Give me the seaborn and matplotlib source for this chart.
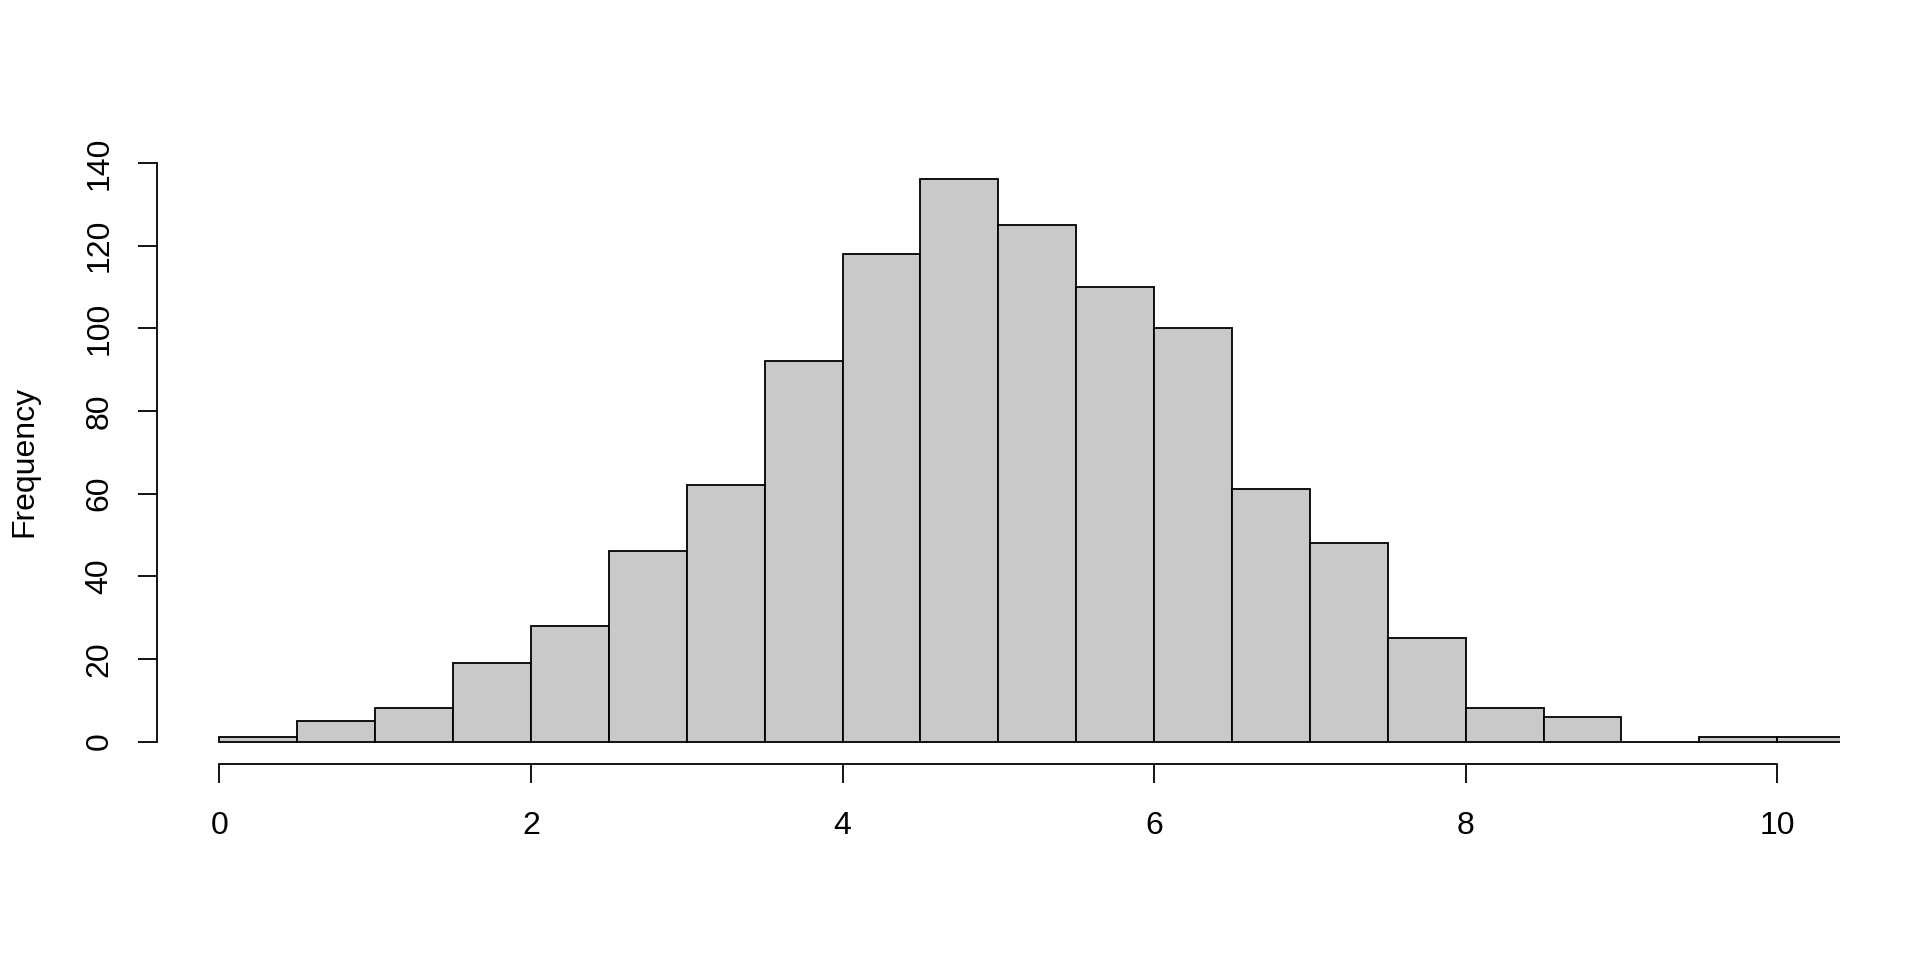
import matplotlib
matplotlib.use("Agg")
import matplotlib.pyplot as plt
import seaborn as sns
import numpy as np
import pandas as pd

# Histogram data (bin edges and counts)
bin_edges = [0.0, 0.5, 1.0, 1.5, 2.0, 2.5, 3.0, 3.5, 4.0, 4.5, 5.0,
             5.5, 6.0, 6.5, 7.0, 7.5, 8.0, 8.5, 9.0, 9.5, 10.0, 10.5]
counts = [1, 5, 8, 19, 28, 46, 62, 92, 118, 136, 125,
          110, 100, 61, 48, 25, 8, 6, 0, 1, 1]
x_ticks = [0, 2, 4, 6, 8, 10]
y_ticks = [0, 20, 40, 60, 80, 100, 120, 140]
y_label = "Frequency"

sns.set_style("white")
plt.rcParams['font.family'] = ['Liberation Sans', 'DejaVu Sans']

mids = [(a + b) / 2 for a, b in zip(bin_edges[:-1], bin_edges[1:])]
df = pd.DataFrame({"value": mids, "count": counts})

fig = plt.figure(figsize=(19.2, 9.6), dpi=100)
ax = fig.add_axes([157 / 1920, 1 - 764 / 960, (1839.6 - 157) / 1920, (764 - 157) / 960])

sns.histplot(data=df, x="value", weights="count", bins=bin_edges, ax=ax,
             color="#C9C9C9", edgecolor="black", linewidth=1.3, alpha=1.0)

ax.set_xlim(-0.4, 10.4)
ax.set_ylim(-5.44, 141.44)
ax.set_xlabel("")
ax.set_ylabel("")

for s in ["top", "right"]:
    ax.spines[s].set_visible(False)
for s in ["left", "bottom"]:
    ax.spines[s].set_visible(True)
    ax.spines[s].set_color("black")
    ax.spines[s].set_linewidth(1.3)
ax.spines["bottom"].set_bounds(x_ticks[0], x_ticks[-1])
ax.spines["left"].set_bounds(y_ticks[0], y_ticks[-1])

ax.set_xticks(x_ticks)
ax.set_xticklabels([str(t) for t in x_ticks])
ax.set_yticks(y_ticks)
ax.set_yticklabels([str(t) for t in y_ticks])
ax.tick_params(axis="both", direction="out", length=13.5, width=1.3, color="black",
               labelsize=23, labelcolor="black", bottom=True, left=True)
ax.tick_params(axis="x", pad=20)
ax.tick_params(axis="y", pad=17, labelrotation=90)
for lab in ax.get_yticklabels():
    lab.set_va("center")
ax.grid(False)

fig.text(24.5 / 1920, 1 - 461 / 960, y_label, rotation=90, ha="center", va="center",
         fontsize=23, color="black")

fig.savefig("out.png", dpi=100, facecolor="white")
